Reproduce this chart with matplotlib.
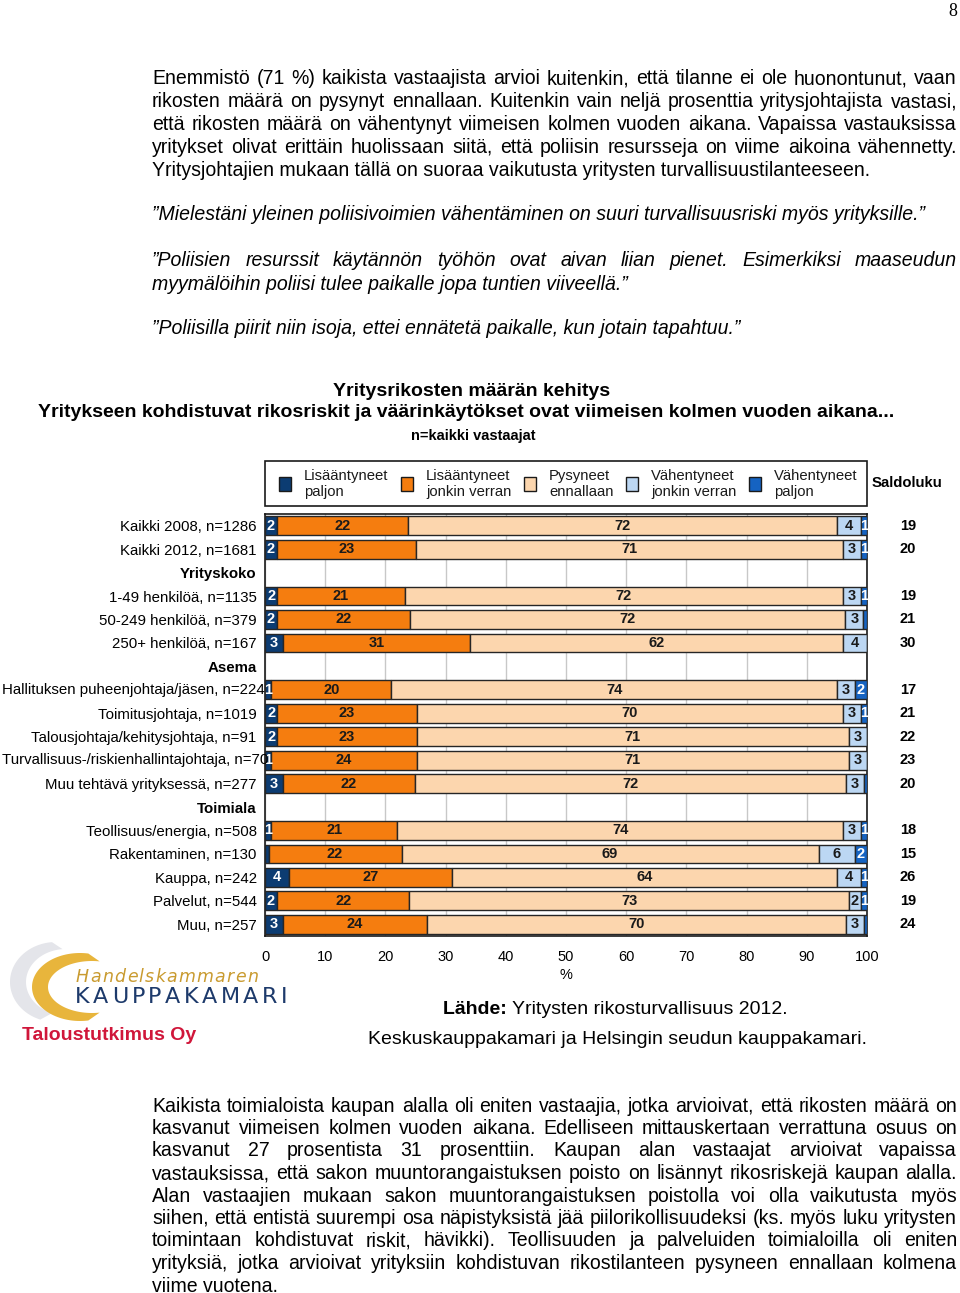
import matplotlib
matplotlib.use("Agg")
import matplotlib.pyplot as plt
import numpy as np
from matplotlib import font_manager as fm
from matplotlib.patches import Rectangle, Polygon

# page size in pixels
W, H = 960, 1293

# chart data (percent of respondents)
rows = ["Kaikki 2008, n=1286", "Kaikki 2012, n=1681", "Yrityskoko",
        "1-49 henkilöä, n=1135", "50-249 henkilöä, n=379", "250+ henkilöä, n=167", "Asema",
        "Hallituksen puheenjohtaja/jäsen, n=224", "Toimitusjohtaja, n=1019",
        "Talousjohtaja/kehitysjohtaja, n=91", "Turvallisuus-/riskienhallintajohtaja, n=70",
        "Muu tehtävä yrityksessä, n=277", "Toimiala",
        "Teollisuus/energia, n=508", "Rakentaminen, n=130", "Kauppa, n=242",
        "Palvelut, n=544", "Muu, n=257"]
headers = ["Yrityskoko", "Asema", "Toimiala"]
nan = np.nan
lis_paljon = [2, 2, nan, 2, 2, 3, nan, 1, 2, 2, 1, 3, nan, 1, 0.6, 4, 2, 3]
lis_jonkin = [22, 23, nan, 21, 22, 31, nan, 20, 23, 23, 24, 22, nan, 21, 22, 27, 22, 24]
pysyneet = [72, 71, nan, 72, 72, 62, nan, 74, 70, 71, 71, 72, nan, 74, 69, 64, 73, 70]
vah_jonkin = [4, 3, nan, 3, 3, 4, nan, 3, 3, 3, 3, 3, nan, 3, 6, 4, 2, 3]
vah_paljon = [1, 1, nan, 1, 0.6, 0, nan, 2, 1, 0, 0, 0.5, nan, 1, 2, 1, 1, 0.5]
saldo = [19, 20, nan, 19, 21, 30, nan, 17, 21, 22, 23, 20, nan, 18, 15, 26, 19, 24]

series_names = ["Lisääntyneet\npaljon", "Lisääntyneet\njonkin verran", "Pysyneet\nennallaan",
                "Vähentyneet\njonkin verran", "Vähentyneet\npaljon"]
colors = ["#0c3c72", "#f57d0f", "#fcd6ae", "#bcd7f3", "#1563c2"]
label_colors = ["white", "#1a1a1a", "#1a1a1a", "#1a1a1a", "white"]

names = {f.name for f in fm.fontManager.ttflist}
narrow = "Liberation Sans Narrow" if "Liberation Sans Narrow" in names else "Liberation Sans"
arial = "Liberation Sans"

fig = plt.figure(figsize=(W / 100, H / 100), dpi=100)
r = fig.canvas.get_renderer()


def fx(x):
    return x / W


def fy(y):
    return 1 - y / H


def text_width(s, **kw):
    t = fig.text(0, 0, s, **kw)
    w = t.get_window_extent(renderer=r).width
    t.remove()
    return w


# body text size fitted from the last line of the first paragraph (719 px wide)
body_size = 10 * 719 / text_width("Yritysjohtajien mukaan tällä on suoraa vaikutusta yritysten turvallisuustilanteeseen.",
                                  family=narrow, fontsize=10)
X0, X1 = 152, 957


def put_line(line, y, justify, style="normal"):
    kw = dict(family=narrow, fontsize=body_size, style=style, va="center", ha="left")
    if not justify:
        fig.text(fx(X0), fy(y), line, **kw)
        return
    words = line.split()
    widths = [text_width(w, **kw) for w in words]
    gap = (X1 - X0 - sum(widths)) / (len(words) - 1)
    x = X0
    for w, wd in zip(words, widths):
        fig.text(fx(x), fy(y), w, **kw)
        x += wd + gap


def paragraph(lines, y0, step, style="normal", last_justify=False):
    for i, line in enumerate(lines):
        last = i == len(lines) - 1
        put_line(line, y0 + i * step, (not last) or last_justify, style)


def spaced(s, x0, x1, y, **kw):
    # letter-spaced text filling x0..x1
    widths = [text_width(c, **kw) for c in s]
    gap = (x1 - x0 - sum(widths)) / (len(s) - 1)
    x = x0
    for c, wd in zip(s, widths):
        fig.text(fx(x), fy(y), c, ha="left", va="center", **kw)
        x += wd + gap


fig.text(fx(957), fy(12), "8", family="Liberation Serif", fontsize=13, ha="right", va="center")

paragraph(["Enemmistö (71 %) kaikista vastaajista arvioi kuitenkin, että tilanne ei ole huonontunut, vaan",
           "rikosten määrä on pysynyt ennallaan. Kuitenkin vain neljä prosenttia yritysjohtajista vastasi,",
           "että rikosten määrä on vähentynyt viimeisen kolmen vuoden aikana.  Vapaissa vastauksissa",
           "yritykset olivat erittäin huolissaan siitä, että poliisin resursseja on viime aikoina vähennetty.",
           "Yritysjohtajien mukaan tällä on suoraa vaikutusta yritysten turvallisuustilanteeseen."], 79, 22.8)

paragraph(["”Mielestäni yleinen poliisivoimien vähentäminen on suuri turvallisuusriski myös yrityksille.”"],
          215, 23, style="italic")
paragraph(["”Poliisien resurssit käytännön työhön ovat aivan liian pienet. Esimerkiksi maaseudun",
           "myymälöihin poliisi tulee paikalle jopa tuntien viiveellä.”"], 261, 23, style="italic")
paragraph(["”Poliisilla piirit niin isoja, ettei ennätetä paikalle, kun jotain tapahtuu.”"],
          329, 23, style="italic")

paragraph(["Kaikista toimialoista kaupan alalla oli eniten vastaajia, jotka arvioivat, että rikosten määrä on",
           "kasvanut viimeisen kolmen vuoden aikana. Edelliseen mittauskertaan verrattuna osuus on",
           "kasvanut 27 prosentista 31 prosenttiin. Kaupan alan vastaajat arvioivat vapaissa",
           "vastauksissa, että sakon muuntorangaistuksen poisto on lisännyt rikosriskejä kaupan alalla.",
           "Alan vastaajien mukaan sakon muuntorangaistuksen poistolla voi olla vaikutusta myös",
           "siihen, että entistä suurempi osa näpistyksistä jää piilorikollisuudeksi (ks. myös luku yritysten",
           "toimintaan kohdistuvat riskit, hävikki). Teollisuuden ja palveluiden toimialoilla oli eniten",
           "yrityksiä, jotka arvioivat yrityksiin kohdistuvan rikostilanteen pysyneen ennallaan kolmena",
           "viime vuotena."], 1106, 22.5)

# chart titles
fig.text(fx(472), fy(391), "Yritysrikosten määrän kehitys", family=narrow, fontsize=14,
         weight="bold", ha="center", va="center")
fig.text(fx(466), fy(413), "Yritykseen kohdistuvat rikosriskit ja väärinkäytökset ovat viimeisen kolmen vuoden aikana...",
         family=narrow, fontsize=14, weight="bold", ha="center", va="center")
fig.text(fx(473), fy(436), "n=kaikki vastaajat", family=narrow, fontsize=10.5,
         weight="bold", ha="center", va="center")

# legend box
fig.add_artist(Rectangle((fx(265), fy(506)), 602 / W, 45 / H, transform=fig.transFigure,
                         fill=False, lw=1.2, ec="#1a1a1a"))
leg_x = [285, 407, 530, 632, 755]
for lx, col, name in zip(leg_x, colors, series_names):
    fig.add_artist(Rectangle((fx(lx - 6), fy(491)), 12 / W, 14 / H, transform=fig.transFigure,
                             fc=col, ec="#1a1a1a", lw=1))
    fig.text(fx(lx + 19), fy(484), name, family=arial, fontsize=10.7, ha="left", va="center",
             linespacing=1.12, color="#1a1a1a")
fig.text(fx(872), fy(483), "Saldoluku", family=arial, fontsize=10.7, weight="bold",
         ha="left", va="center")

# bar chart
ax = fig.add_axes([fx(265), fy(936), 602 / W, 422 / H])
ypos = np.arange(len(rows))
data = np.array([lis_paljon, lis_jonkin, pysyneet, vah_jonkin, vah_paljon], dtype=float)
has = ~np.isnan(data[0])
totals = np.nansum(data, axis=0)
left = np.zeros(len(rows))
for k in range(5):
    widths = np.where(has, data[k] / np.where(totals > 0, totals, 1) * 100, 0)
    ax.barh(ypos[has], widths[has], left=left[has], height=0.8, color=colors[k],
            edgecolor="#262626", lw=1.0, zorder=3)
    for i in np.where(has)[0]:
        if data[k, i] >= 1:
            ax.text(left[i] + widths[i] / 2, ypos[i], f"{data[k, i]:.0f}", ha="center", va="center",
                    fontsize=10.5, weight="bold", family=arial, color=label_colors[k], zorder=4)
    left = left + widths

for i in np.where(has)[0]:
    ax.text(106.8, ypos[i], f"{saldo[i]:.0f}", ha="center", va="center", fontsize=10.5,
            weight="bold", family=arial, clip_on=False)

ax.set_xlim(0, 100)
ax.set_ylim(len(rows) - 0.5, -0.5)
ax.set_yticks(ypos)
# labels too long for the margin run into the bar area, as in the original
lab_size = 10.8
avail = 258
tick_text = []
for i, name in enumerate(rows):
    wd = text_width(name, family=arial, fontsize=lab_size)
    if wd > avail - 1:
        tick_text.append("")
        ax.text(0, ypos[i], name, transform=ax.get_yaxis_transform() + matplotlib.transforms.ScaledTranslation(
            -(265 - 1.5) / 100, 0, fig.dpi_scale_trans), family=arial, fontsize=lab_size,
            ha="left", va="center", zorder=6, clip_on=False)
    else:
        tick_text.append(name)
ax.set_yticklabels(tick_text, family=arial, fontsize=lab_size)
for lab in ax.get_yticklabels():
    if lab.get_text() in headers:
        lab.set_fontweight("bold")
ax.tick_params(axis="y", length=0, pad=6)
ax.set_xticks(np.arange(0, 101, 10))
ax.set_xticklabels([str(v) for v in range(0, 101, 10)], family=narrow, fontsize=10.5)
ax.tick_params(axis="x", length=0, pad=10)
ax.set_xlabel("%", family=narrow, fontsize=10.5, labelpad=3)
ax.grid(axis="x", color="#c8c8c8", lw=1, zorder=0)
for sp in ax.spines.values():
    sp.set_color("#1a1a1a")
    sp.set_linewidth(1.2)


# logo: crescent shapes made of two offset ellipse arcs
def crescent(cx, cy, rx, ry, cx2, rx2, ry2, a0, a1, color):
    t = np.radians(np.linspace(a0, a1, 80))
    outer = np.column_stack([cx + rx * np.cos(t), cy - ry * np.sin(t)])
    inner = np.column_stack([cx2 + rx2 * np.cos(t[::-1]), cy - ry2 * np.sin(t[::-1])])
    pts = np.vstack([outer, inner])
    pts = np.column_stack([fx(pts[:, 0]), fy(pts[:, 1])])
    fig.add_artist(Polygon(pts, closed=True, transform=fig.transFigure, fc=color, ec="none"))


crescent(56, 982, 46, 40, 66, 40, 33, 95, 250, "#e4e5ea")
crescent(80, 987, 48, 34, 92, 44, 26, 80, 280, "#e8b53c")
spaced("Handelskammaren", 76, 258, 977, family="DejaVu Sans", style="italic", fontsize=12.5,
       color="#c99b30")
spaced("KAUPPAKAMARI", 75, 287, 997, family="DejaVu Sans", fontsize=16, color="#1d3a6b")
fig.text(fx(22), fy(1036), "Taloustutkimus Oy", family=arial, fontsize=14, weight="bold",
         color="#d0163a", ha="left", va="center")

# source
src_kw = dict(family=narrow, fontsize=14, va="center")
w_bold = text_width("Lähde: ", weight="bold", **src_kw)
w_rest = text_width("Yritysten rikosturvallisuus 2012.", **src_kw)
sx = 615 - (w_bold + w_rest) / 2
fig.text(fx(sx), fy(1009), "Lähde: ", weight="bold", ha="left", **src_kw)
fig.text(fx(sx + w_bold), fy(1009), "Yritysten rikosturvallisuus 2012.", ha="left", **src_kw)
fig.text(fx(617), fy(1039), "Keskuskauppakamari ja Helsingin seudun kauppakamari.", ha="center", **src_kw)

fig.savefig("out.png", dpi=100)
